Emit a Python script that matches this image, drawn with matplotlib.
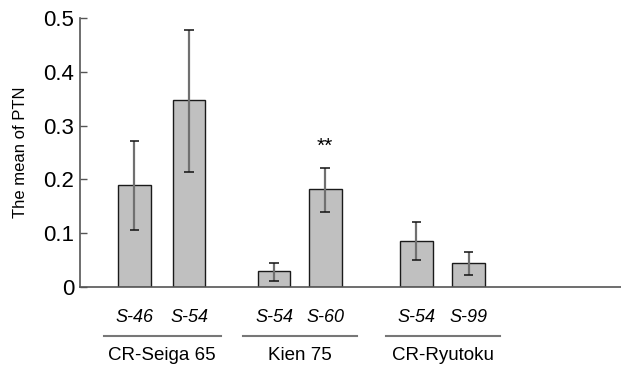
import matplotlib
matplotlib.use("Agg")
import matplotlib.pyplot as plt

plt.rcParams["font.family"] = ["Liberation Sans", "DejaVu Sans"]

# ── Data ──
groups = ["CR-Seiga 65", "Kien 75", "CR-Ryutoku"]
lines = ["S-46", "S-54", "S-54", "S-60", "S-54", "S-99"]
group_of = [0, 0, 1, 1, 2, 2]
means = [0.190, 0.347, 0.030, 0.182, 0.085, 0.045]
err_hi = [0.272, 0.478, 0.045, 0.221, 0.121, 0.065]
err_lo = [0.106, 0.214, 0.011, 0.139, 0.050, 0.022]
signif = ["", "", "", "**", "", ""]

# bar positions (gap between groups)
xpos = [0, 1.04, 2.65, 3.62, 5.35, 6.34]

fig = plt.figure(figsize=(6.21, 3.65), dpi=100)
ax = fig.add_axes([80 / 621, 1 - 287 / 365, 1 - 80 / 621, (287 - 18) / 365])

yerr = [[m - lo for m, lo in zip(means, err_lo)],
        [hi - m for m, hi in zip(means, err_hi)]]
ax.bar(xpos, means, width=0.62, color="#c0c0c0", edgecolor="#1a1a1a",
       linewidth=1.0, zorder=2)
ax.errorbar(xpos, means, yerr=yerr, fmt="none", ecolor="#707070",
            elinewidth=1.6, capsize=0, zorder=3)
# caps drawn in black
for x, lo, hi in zip(xpos, err_lo, err_hi):
    ax.hlines([lo, hi], x - 0.09, x + 0.09, color="#111111", linewidth=1.1, zorder=4)

for x, hi, s in zip(xpos, err_hi, signif):
    if s:
        ax.text(x, hi + 0.022, s, ha="center", va="bottom", fontsize=15)

ax.set_ylim(0, 0.5)
ax.set_xlim(-1.03, 9.23)
ax.set_yticks([0, 0.1, 0.2, 0.3, 0.4, 0.5])
ax.set_yticklabels(["0", "0.1", "0.2", "0.3", "0.4", "0.5"], fontsize=16)
ax.tick_params(axis="y", direction="in", length=5, width=1, color="#555555", pad=4)
ax.set_xticks([])
for sp in ["top", "right"]:
    ax.spines[sp].set_visible(False)
for sp in ["left", "bottom"]:
    ax.spines[sp].set_color("#555555")
    ax.spines[sp].set_linewidth(1.2)
ax.set_ylabel("The mean of PTN", fontsize=12)
ax.yaxis.set_label_coords(-52 / 541, 0.5)

# line labels and group labels below the axis
for x, lab in zip(xpos, lines):
    ax.text(x, -0.057, lab, ha="center", va="center", fontsize=13,
            style="italic", clip_on=False)
for g, name in enumerate(groups):
    xs = [x for x, gi in zip(xpos, group_of) if gi == g]
    left, right = xs[0] - 0.58, xs[-1] + 0.6
    ax.plot([left, right], [-0.091, -0.091], color="#777777", linewidth=1.5,
            clip_on=False)
    ax.text((xs[0] + xs[-1]) / 2, -0.128, name, ha="center", va="center",
            fontsize=13.5, clip_on=False)

fig.savefig("out.png", dpi=100, facecolor="white")
